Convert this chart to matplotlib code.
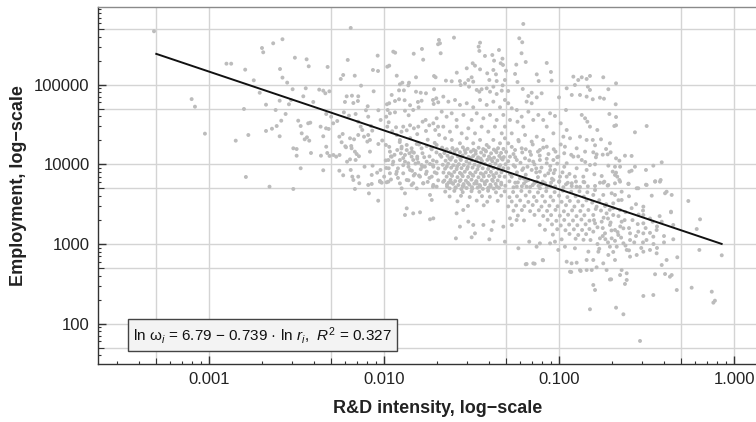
import numpy as np
import matplotlib
matplotlib.use("Agg")
import matplotlib.pyplot as plt
from matplotlib.ticker import FixedLocator, FixedFormatter, NullFormatter

plt.rcParams['font.family'] = ['Liberation Sans', 'DejaVu Sans']
plt.rcParams['mathtext.fontset'] = 'custom'
plt.rcParams['mathtext.rm'] = 'Liberation Sans'
plt.rcParams['mathtext.it'] = 'Liberation Sans:italic'

# ---- data: (log10 R&D intensity, log10 employment) ----
sparse_left = [
    (-3.314,5.672),(-3.099,4.82),(-3.08,4.725),(-3.023,4.386),(-2.90,5.265),(-2.873,5.265),
    (-2.793,5.19),(-2.744,5.056),(-2.71,4.90),(-2.697,5.462),(-2.69,5.408),(-2.633,5.521),
    (-2.58,5.572),(-2.594,5.198),(-2.58,5.09),(-2.553,5.027),(-2.674,4.75),(-2.619,4.683),
    (-2.596,4.80),(-2.543,4.755),(-2.562,4.633),(-2.587,4.549),(-2.613,4.482),(-2.64,4.448),
    (-2.674,4.42),(-2.596,4.353),(-2.80,4.696),(-2.775,4.369),(-2.847,4.298),(-2.789,3.842),
    (-2.654,3.72),
]
upper_mid = [
    (-2.19,5.714),(-2.509,5.34),(-2.442,5.32),(-2.43,5.232),(-2.322,5.224),(-2.207,5.312),
    (-2.036,5.366),(-1.947,5.416),(-1.936,5.403),(-1.83,5.39),(-1.783,5.45),(-1.776,5.315),
    (-1.691,5.509),(-1.686,5.563),(-2.063,5.186),(-2.034,5.173),(-1.981,5.227),(-1.97,5.24),
    (-2.233,5.123),(-2.247,5.073),(-2.167,5.114),(-1.927,5.114),(-1.817,5.094),(-1.714,5.11),
    (-1.705,5.094),(-2.131,4.989),(-1.909,5.006),(-1.895,5.026),(-1.857,5.026),(-1.861,4.993),
    (-1.886,4.93),(-1.914,4.93),(-1.817,4.913),(-1.79,4.90),(-1.76,4.893),(-1.714,4.944),
    (-2.522,4.944),(-2.447,4.956),(-2.37,4.939),(-2.347,4.926),(-2.335,4.893),(-2.312,4.918),
    (-2.461,4.855),(-2.531,4.809),(-2.213,4.855),(-2.183,4.863),(-2.147,4.855),(-2.149,4.796),
    (-2.223,4.784),(-2.175,4.771),(-2.059,4.918),(-1.956,4.872),(-1.937,4.796),(-1.97,4.768),
    (-1.983,4.755),(-1.914,4.818),(-1.882,4.806),(-1.851,4.743),(-1.806,4.784),(-1.785,4.80),
    (-1.802,4.717),(-1.72,4.809),(-1.701,4.83),(-1.716,4.759),(-1.69,4.78),(-2.404,4.784),
    (-2.093,4.73),(-2.103,4.68),(-2.032,4.68),(-1.979,4.683),(-1.966,4.642),(-1.987,4.599),
    (-1.937,4.654),(-1.88,4.674),(-1.859,4.617),(-1.833,4.683),(-2.33,4.633),(-2.302,4.599),
    (-2.229,4.654),(-2.20,4.612),(-2.162,4.633),(-2.09,4.599),
]
mid_band = [
    (-2.49,4.549),(-2.476,4.482),(-2.433,4.516),(-2.421,4.524),(-2.362,4.474),(-2.331,4.453),
    (-2.316,4.445),(-2.29,4.516),(-2.267,4.545),(-2.147,4.536),(-2.133,4.474),(-2.124,4.432),
    (-2.074,4.482),(-2.067,4.424),(-2.019,4.558),(-1.973,4.529),(-1.981,4.474),(-1.953,4.416),
    (-1.931,4.466),(-1.89,4.474),(-1.87,4.428),(-1.851,4.491),(-1.829,4.453),(-1.804,4.474),
    (-1.779,4.536),(-1.762,4.558),(-1.741,4.491),(-1.718,4.516),(-1.699,4.579),(-1.707,4.432),
    (-1.691,4.474),(-2.47,4.39),(-2.453,4.315),(-2.44,4.34),(-2.427,4.298),(-2.347,4.353),
    (-2.255,4.348),(-2.236,4.382),(-2.242,4.278),(-2.221,4.227),(-2.194,4.328),(-2.171,4.315),
    (-2.187,4.231),(-2.147,4.369),(-2.114,4.348),(-2.09,4.369),(-2.095,4.286),(-2.08,4.307),
    (-2.032,4.256),(-1.989,4.244),(-2.518,4.202),(-2.499,4.193),(-2.499,4.109),(-2.417,4.143),
    (-2.36,4.109),(-2.33,4.222),(-2.324,4.143),(-2.311,4.106),(-2.289,4.118),(-2.273,4.097),
    (-2.254,4.118),(-2.217,4.215),(-2.185,4.202),(-2.166,4.16),(-2.156,4.13),(-2.143,4.102),
    (-2.162,4.055),(-2.194,4.063),(-2.211,4.034),(-2.08,4.16),(-2.476,3.951),(-2.347,3.926),
    (-2.255,3.921),(-2.233,3.863),(-2.19,3.93),(-2.181,3.846),(-2.147,3.846),(-2.141,3.763),
    (-2.111,3.971),(-2.065,3.984),(-2.07,3.867),(-2.039,3.896),(-2.023,3.791),(-2.013,3.77),
    (-1.987,3.955),(-1.973,3.951),(-1.966,3.888),(-1.999,3.846),(-1.985,3.775),
    (-1.927,4.369),(-1.909,4.307),
]
core_left = [
    (-1.924,4.181),(-1.903,4.139),(-1.88,4.118),(-1.855,4.139),(-1.842,4.097),(-1.829,4.147),
    (-1.81,4.097),(-1.966,4.16),(-1.956,4.097),(-1.975,4.055),(-1.947,4.034),(-1.909,4.055),
    (-1.88,4.034),(-1.861,4.014),(-1.833,4.055),(-1.804,4.022),(-1.785,3.992),(-1.756,4.034),
    (-1.737,4.005),(-1.766,3.971),(-1.718,3.971),(-1.699,4.034),(-1.927,3.909),(-1.89,3.888),
    (-1.851,3.93),(-1.823,3.88),(-1.794,3.846),(-1.756,3.909),(-1.727,3.846),(-1.699,3.888),
    (-1.87,3.804),(-1.833,3.763),(-1.776,3.763),(-1.718,3.742),(-1.899,4.222),(-1.87,4.244),
    (-1.842,4.202),(-1.813,4.256),(-1.785,4.202),(-1.756,4.231),(-1.727,4.189),(-1.699,4.244),
    (-1.95,4.0),(-1.92,3.95),(-1.89,4.08),(-1.86,3.97),(-1.84,3.92),(-1.81,4.07),(-1.79,3.94),
    (-1.76,3.88),(-1.74,4.1),(-1.71,3.9),(-1.69,3.8),(-1.92,3.83),(-1.86,3.8),(-1.8,3.86),
    (-1.75,3.78),(-1.72,3.72),(-1.96,4.1),(-1.9,4.2),(-1.84,4.16),(-1.78,4.14),(-1.73,4.2),
    (-1.7,4.15),
    (-1.99,4.05),(-1.97,4.22),(-1.94,4.12),(-1.93,3.88),(-1.91,4.28),(-1.89,3.99),(-1.87,4.18),
    (-1.85,4.33),(-1.83,3.86),(-1.82,4.01),(-1.8,4.25),(-1.78,3.97),(-1.77,4.09),(-1.75,4.31),
    (-1.74,3.83),(-1.72,4.05),(-1.71,4.27),(-1.69,3.95),(-1.68,4.12),(-1.685,4.37),(-2.02,3.93),
    (-2.01,4.3),(-1.96,3.81),(-1.9,4.41),(-1.81,4.38),(-1.76,4.42),(-1.72,3.99),
]
upper_right = [
    (-1.204,5.764),(-1.60,5.592),(-1.68,5.521),(-1.676,5.396),(-1.451,5.529),(-1.459,5.479),
    (-1.455,5.425),(-1.227,5.584),(-1.21,5.534),(-1.214,5.396),(-1.343,5.437),(-1.423,5.362),
    (-1.381,5.374),(-1.371,5.303),(-1.323,5.328),(-1.333,5.27),(-1.32,5.249),(-1.19,5.286),
    (-1.244,5.253),(-1.07,5.274),(-1.046,5.161),(-1.042,5.052),(-1.127,5.131),(-1.116,5.047),
    (-1.493,5.27),(-1.48,5.24),(-1.527,5.207),(-1.584,5.152),(-1.451,5.194),(-1.41,5.144),
    (-1.375,5.186),(-1.36,5.131),(-1.398,5.06),(-1.356,5.047),(-1.303,5.177),(-1.309,5.06),
    (-1.322,4.993),(-1.29,4.922),(-1.251,5.136),(-1.237,5.035),(-1.646,5.052),(-1.613,5.044),
    (-1.566,5.047),(-1.562,4.997),(-1.537,5.018),(-1.518,5.06),(-1.499,5.094),(-1.49,5.039),
    (-1.514,4.976),(-1.47,4.935),(-1.455,4.913),(-1.442,4.944),(-1.413,4.956),(-1.394,4.913),
    (-1.375,4.976),(-1.356,4.884),(-1.327,4.926),(-1.207,4.947),(-1.175,4.859),(-1.156,4.90),
    (-1.127,4.842),(-1.099,4.893),(-1.185,4.788),(-1.156,4.768),(-1.023,4.608),(-1.0,4.842),
    (-0.99,4.516),(-0.956,4.432),(-0.96,4.683),(-0.956,4.956),(-0.927,4.872),(-0.909,4.997),
    (-0.89,5.06),(-0.918,5.102),(-0.87,5.094),(-0.842,5.073),(-0.835,4.976),(-0.88,4.872),
    (-0.842,4.851),(-0.87,4.621),(-0.851,4.579),(-0.838,4.536),
]
mid_right = [
    (-0.975,4.348),(-0.937,4.328),(-0.88,4.348),(-0.842,4.307),(-0.966,4.222),(-0.899,4.202),
    (-0.851,4.16),(-0.918,4.097),(-0.87,4.055),(-0.956,4.014),(-0.899,3.951),(-0.842,3.93),
    (-0.861,3.846),(-0.909,3.846),(-0.956,3.846),(-0.927,3.763),
    (-1.29,4.768),(-1.27,4.705),(-1.241,4.683),(-1.213,4.599),(-1.175,4.662),(-1.147,4.558),
    (-1.118,4.621),(-1.09,4.558),(-1.07,4.474),(-1.051,4.642),(-1.032,4.39),(-1.204,4.474),
    (-1.237,4.536),(-1.28,4.558),(-1.27,4.39),(-1.232,4.307),(-1.194,4.369),(-1.156,4.286),
    (-1.127,4.348),(-1.09,4.307),(-1.07,4.222),(-1.109,4.181),(-1.166,4.16),(-1.213,4.202),
    (-1.251,4.181),(-1.29,4.265),(-1.28,4.097),(-1.241,4.055),(-1.194,4.076),(-1.147,4.034),
    (-1.109,4.055),(-1.07,4.014),(-1.032,4.055),(-1.004,4.097),(-1.023,3.93),(-1.061,3.888),
    (-1.109,3.909),(-1.156,3.93),(-1.204,3.951),(-1.251,3.971),(-1.29,3.951),(-1.27,3.846),
    (-1.223,3.825),(-1.175,3.804),(-1.127,3.783),(-1.08,3.763),(-1.032,3.804),(-0.994,3.846),
    (-1.241,3.72),(-1.185,3.72),(-1.109,3.70),
    (-1.26,3.99),(-1.22,4.02),(-1.18,3.97),(-1.14,4.0),(-1.1,3.96),(-1.05,3.98),(-1.01,4.01),
    (-0.97,3.97),(-1.24,3.9),(-1.19,3.87),(-1.13,3.9),(-1.08,3.86),(-1.03,3.89),(-0.98,3.9),
    (-0.94,3.88),(-1.25,3.77),(-1.2,3.76),(-1.15,3.74),(-1.1,3.75),(-1.05,3.73),(-1.0,3.78),
    (-0.96,3.75),(-0.9,3.72),(-0.86,3.78),(-1.26,4.13),(-1.21,4.15),(-1.16,4.12),(-1.12,4.16),
    (-1.06,4.13),(-1.02,4.16),(-0.97,4.14),(-0.93,4.12),(-0.89,4.1),(-0.85,4.03),
    (-1.29,4.04),(-1.27,4.22),(-1.25,4.09),(-1.23,4.29),(-1.21,3.93),(-1.19,4.19),(-1.17,4.05),
    (-1.15,4.25),(-1.13,3.95),(-1.11,4.11),(-1.09,4.21),(-1.07,4.07),(-1.05,3.93),(-1.03,4.19),
    (-1.01,4.09),(-0.99,4.25),(-1.28,3.88),(-1.2,3.82),(-1.12,3.84),(-1.04,3.82),
]
core_upper = [
    (-1.661,4.851),(-1.632,4.788),(-1.594,4.809),(-1.566,4.747),(-1.527,4.768),(-1.49,4.717),
    (-1.451,4.809),(-1.413,4.747),(-1.375,4.788),(-1.337,4.717),(-1.309,4.809),
    (-1.67,4.662),(-1.642,4.599),(-1.613,4.642),(-1.585,4.558),(-1.546,4.621),(-1.499,4.558),
    (-1.47,4.642),(-1.432,4.579),(-1.394,4.621),(-1.356,4.558),(-1.318,4.621),
    (-1.661,4.474),(-1.623,4.411),(-1.584,4.474),(-1.556,4.39),(-1.518,4.453),(-1.48,4.39),
    (-1.442,4.474),(-1.404,4.411),(-1.366,4.474),(-1.327,4.39),(-1.309,4.474),(-1.651,4.328),
    (-1.613,4.307),(-1.566,4.265),(-1.527,4.328),(-1.49,4.265),(-1.451,4.307),(-1.413,4.244),
    (-1.375,4.307),(-1.337,4.265),(-1.309,4.328),
]
core_dense = [
    (-1.668,4.21),(-1.641,4.19),(-1.609,4.205),(-1.583,4.188),(-1.549,4.214),(-1.522,4.196),
    (-1.488,4.183),(-1.459,4.209),(-1.433,4.192),(-1.401,4.216),(-1.372,4.186),(-1.348,4.203),
    (-1.317,4.194),
    (-1.655,4.142),(-1.622,4.158),(-1.597,4.137),(-1.566,4.153),(-1.534,4.145),(-1.503,4.161),
    (-1.476,4.134),(-1.445,4.149),(-1.417,4.163),(-1.388,4.139),(-1.357,4.152),(-1.331,4.144),
    (-1.302,4.157),
    (-1.672,4.096),(-1.637,4.108),(-1.611,4.087),(-1.578,4.102),(-1.551,4.111),(-1.517,4.093),
    (-1.49,4.105),(-1.462,4.089),(-1.428,4.113),(-1.4,4.097),(-1.371,4.084),(-1.341,4.106),
    (-1.315,4.092),
    (-1.648,4.046),(-1.619,4.058),(-1.59,4.041),(-1.561,4.055),(-1.529,4.037),(-1.498,4.052),
    (-1.47,4.061),(-1.44,4.043),(-1.409,4.057),(-1.381,4.039),(-1.352,4.049),(-1.322,4.06),
    (-1.664,3.995),(-1.633,4.008),(-1.604,3.989),(-1.572,4.003),(-1.544,3.992),(-1.512,4.011),
    (-1.483,3.997),(-1.455,3.986),(-1.423,4.006),(-1.394,3.994),(-1.363,4.009),(-1.336,3.99),
    (-1.305,4.002),
    (-1.651,3.946),(-1.616,3.958),(-1.585,3.941),(-1.557,3.953),(-1.525,3.944),(-1.494,3.959),
    (-1.466,3.938),(-1.436,3.951),(-1.405,3.943),(-1.375,3.956),(-1.346,3.94),(-1.318,3.952),
    (-1.66,3.897),(-1.629,3.889),(-1.598,3.905),(-1.566,3.893),(-1.538,3.908),(-1.508,3.891),
    (-1.477,3.902),(-1.447,3.887),(-1.418,3.899),(-1.389,3.906),(-1.358,3.89),(-1.329,3.9),
    (-1.642,3.846),(-1.611,3.855),(-1.58,3.84),(-1.55,3.852),(-1.519,3.843),(-1.49,3.857),
    (-1.46,3.838),(-1.43,3.849),(-1.4,3.855),(-1.37,3.842),(-1.34,3.851),(-1.31,3.845),
    (-1.655,3.797),(-1.62,3.806),(-1.593,3.79),(-1.562,3.802),(-1.532,3.795),(-1.5,3.808),
    (-1.472,3.789),(-1.442,3.801),(-1.412,3.793),(-1.382,3.806),(-1.35,3.798),
    (-1.64,3.748),(-1.605,3.756),(-1.575,3.741),(-1.545,3.753),(-1.512,3.745),(-1.484,3.758),
    (-1.453,3.74),(-1.423,3.751),(-1.392,3.744),(-1.362,3.755),(-1.33,3.746),
    (-1.625,3.699),(-1.59,3.706),(-1.558,3.69),(-1.528,3.703),(-1.496,3.694),(-1.465,3.707),
    (-1.435,3.692),(-1.405,3.7),(-1.373,3.696),(-1.343,3.705),
    (-1.653,4.175),(-1.597,4.171),(-1.538,4.178),(-1.476,4.168),(-1.42,4.176),(-1.361,4.17),
    (-1.626,4.075),(-1.563,4.07),(-1.505,4.078),(-1.447,4.072),(-1.389,4.068),(-1.33,4.077),
    (-1.641,3.972),(-1.582,3.975),(-1.521,3.968),(-1.461,3.979),(-1.4,3.971),(-1.342,3.974),
    (-1.615,3.872),(-1.556,3.877),(-1.495,3.869),(-1.434,3.874),(-1.376,3.866),(-1.63,3.772),
    (-1.55,3.727),(-1.47,3.76),(-1.39,3.725),
]
core_lower = [
    (-1.662,3.781),(-1.615,3.772),(-1.567,3.79),(-1.52,3.768),(-1.473,3.785),(-1.425,3.776),
    (-1.378,3.792),(-1.33,3.77),(-1.283,3.787),(-1.235,3.774),(-1.188,3.789),(-1.14,3.766),
    (-1.093,3.783),(-1.045,3.771),(-0.998,3.788),(-0.95,3.769),(-0.903,3.784),(-0.855,3.775),
    (-1.64,3.723),(-1.592,3.711),(-1.545,3.729),(-1.497,3.714),(-1.45,3.726),(-1.402,3.708),
    (-1.355,3.721),(-1.307,3.731),(-1.26,3.712),(-1.212,3.725),(-1.165,3.716),(-1.117,3.73),
    (-1.07,3.709),(-1.022,3.722),(-0.975,3.713),(-0.927,3.728),(-0.88,3.717),(-0.835,3.724),
    (-1.65,3.658),(-1.598,3.667),(-1.55,3.651),(-1.5,3.663),(-1.455,3.655),(-1.405,3.668),
    (-1.36,3.649),(-1.31,3.661),(-1.262,3.653),(-1.215,3.666),(-1.168,3.657),(-1.12,3.648),
    (-1.073,3.664),(-1.025,3.652),(-0.978,3.669),(-0.93,3.656),(-0.883,3.662),(-0.838,3.65),
    (-1.625,3.597),(-1.56,3.605),(-1.51,3.59),(-1.44,3.601),(-1.395,3.593),(-1.33,3.606),
    (-1.283,3.588),(-1.24,3.599),(-1.19,3.609),(-1.143,3.592),(-1.095,3.603),(-1.048,3.594),
    (-1.0,3.607),(-0.952,3.589),(-0.905,3.6),(-0.858,3.595),
    (-1.58,3.536),(-1.47,3.545),(-1.41,3.531),(-1.35,3.542),(-1.27,3.534),(-1.222,3.547),
    (-1.175,3.529),(-1.128,3.54),(-1.08,3.533),(-1.033,3.546),(-0.985,3.53),(-0.938,3.541),
    (-0.89,3.535),(-0.843,3.548),
    (-1.52,3.478),(-1.43,3.486),(-1.29,3.472),(-1.245,3.483),(-1.198,3.476),(-1.15,3.489),
    (-1.1,3.47),(-1.055,3.481),(-1.008,3.474),(-0.96,3.487),(-0.912,3.471),(-0.865,3.482),
    (-1.26,3.418),(-1.212,3.426),(-1.165,3.413),(-1.115,3.424),(-1.068,3.416),(-1.02,3.428),
    (-0.972,3.411),(-0.925,3.422),(-0.878,3.415),(-0.832,3.427),
    (-1.235,3.357),(-1.14,3.365),(-1.09,3.352),(-1.045,3.363),(-0.995,3.355),(-0.948,3.367),
    (-0.9,3.35),(-0.855,3.361),
    (-1.2,3.296),(-1.065,3.304),(-1.015,3.291),(-0.97,3.302),(-0.92,3.295),(-0.872,3.307),
    (-0.826,3.293),
    (-1.11,3.238),(-1.04,3.246),(-0.99,3.233),(-0.942,3.244),(-0.895,3.236),(-0.848,3.247),
    (-1.08,3.178),(-1.01,3.186),(-0.963,3.173),(-0.915,3.184),(-0.868,3.176),(-0.826,3.188),
    (-1.035,3.118),(-0.94,3.126),(-0.89,3.113),(-0.845,3.124),
    (-0.985,3.058),(-0.905,3.066),(-0.86,3.053),
]
lower_scatter = [
    (-2.518,3.691),(-2.166,3.691),(-2.086,3.636),(-2.07,3.754),(-2.033,3.544),(-2.023,3.783),
    (-1.975,3.783),(-1.909,3.762),(-1.899,3.699),(-1.88,3.636),(-1.87,3.448),(-1.88,3.364),
    (-1.833,3.385),(-1.794,3.398),(-1.842,3.741),(-1.813,3.699),(-1.775,3.762),(-1.737,3.616),
    (-1.727,3.553),(-1.699,3.72),(-1.737,3.31),(-1.718,3.322),(-2.175,3.804),(-2.09,3.741),
    (-1.589,3.071),(-1.499,3.084),(-1.398,3.059),(-1.309,3.029),
    (-1.585,3.385),(-1.547,3.427),(-1.566,3.218),(-1.518,3.281),(-1.48,3.134),(-1.49,3.239),
    (-1.432,3.239),(-1.375,3.281),(-1.385,3.176),(-1.318,3.218),(-1.27,3.239),(-1.242,3.301),
    (-1.28,3.322),
    (-1.232,2.946),(-1.185,2.749),(-1.147,2.757),(-1.093,2.799),(-1.17,3.029),(-1.128,2.966),
    (-1.109,3.008),(-1.051,3.008),(-1.023,3.029),(-1.004,2.925),(-0.966,2.966),(-0.956,2.778),
    (-0.928,2.757),(-0.899,2.765),(-0.88,2.673),(-0.937,2.652),(-0.842,2.673),(-0.842,2.799),
    (-0.832,2.904),(-0.909,2.946),(-0.93,2.648),(-0.876,2.661),
]
right_cluster = [
    (-0.823,5.111),(-0.747,5.094),(-0.674,5.018),(-0.823,4.935),(-0.718,4.944),(-0.807,4.818),
    (-0.766,4.838),(-0.743,4.825),(-0.676,4.755),(-0.712,4.633),(-0.674,4.595),(-0.823,4.474),
    (-0.781,4.432),(-0.684,4.482),(-0.674,4.491),(-0.566,4.403),(-0.499,4.482),(-0.807,4.307),
    (-0.76,4.315),(-0.794,4.24),(-0.709,4.265),(-0.731,4.193),(-0.804,4.152),(-0.785,4.126),
    (-0.789,4.089),(-0.75,4.122),(-0.722,4.126),(-0.705,4.152),(-0.674,4.076),(-0.655,4.047),
    (-0.623,4.109),(-0.585,4.106),(-0.823,3.992),(-0.794,4.001),(-0.718,3.984),(-0.68,3.971),
    (-0.651,3.971),(-0.566,3.971),(-0.461,3.984),(-0.413,4.026),(-0.693,3.909),(-0.674,3.896),
    (-0.667,3.846),(-0.68,3.867),(-0.598,3.909),(-0.585,3.921),(-0.503,3.93),(-0.798,3.876),
    (-0.756,3.854),(-0.741,3.783),(-0.766,3.77),(-0.794,3.729),(-0.722,3.733),(-0.655,3.804),
    (-0.603,3.758),(-0.556,3.70),(-0.503,3.745),(-0.45,3.788),(-0.419,3.804),
    (-0.747,3.77),(-0.718,3.741),(-0.68,3.762),(-0.651,3.783),(-0.603,3.753),(-0.547,3.70),
    (-0.499,3.741),(-0.451,3.783),(-0.423,3.783),(-0.794,3.678),(-0.804,3.616),(-0.747,3.616),
    (-0.699,3.637),(-0.68,3.616),(-0.642,3.657),(-0.642,3.553),(-0.47,3.607),(-0.394,3.637),
    (-0.356,3.616),(-0.385,3.657),(-0.261,3.54),
]
lower_right = [
    (-0.785,3.469),(-0.737,3.477),(-0.69,3.511),(-0.651,3.427),(-0.804,3.364),(-0.728,3.385),
    (-0.69,3.364),(-0.756,3.28),(-0.794,3.26),(-0.709,3.239),(-0.642,3.28),(-0.68,3.176),
    (-0.632,3.197),(-0.737,3.134),(-0.804,3.155),(-0.766,3.071),(-0.699,3.071),(-0.661,3.113),
    (-0.594,3.134),(-0.547,3.155),(-0.518,3.134),(-0.518,3.469),(-0.518,3.364),(-0.518,3.26),
    (-0.442,3.176),(-0.413,3.28),(-0.36,3.406),(-0.347,3.239),(-0.461,3.092),(-0.594,3.05),
    (-0.632,3.009),(-0.67,2.966),(-0.709,2.966),(-0.718,2.862),(-0.775,2.903),(-0.804,2.799),
    (-0.747,2.757),(-0.68,2.799),(-0.613,2.925),(-0.594,2.841),(-0.556,2.862),(-0.518,2.903),
    (-0.48,2.925),(-0.442,2.883),(-0.385,2.799),(-0.413,2.736),(-0.813,2.673),(-0.785,2.707),
    (-0.728,2.673),(-0.642,2.673),(-0.613,2.632),(-0.651,2.61),(-0.451,2.62),(-0.394,2.623),
    (-0.356,2.61),(-0.366,2.589),(-0.324,2.833),(-0.709,2.554),(-0.613,2.548),(-0.623,2.498),
    (-0.794,2.422),(-0.804,2.485),(-0.518,2.347),(-0.461,2.359),(-0.327,2.422),(-0.242,2.451),
    (-0.127,2.401),(-0.118,2.263),(-0.109,2.288),(-0.07,2.858),(-0.198,2.925),(-0.213,3.188),
    (-0.194,3.31),(-0.36,3.398),(-0.347,3.059),(-0.823,2.18),(-0.674,2.2),(-0.632,2.117),
    (-0.537,1.782),(-1.19,2.745),(-1.139,2.752),(-1.091,2.795),(-0.702,2.556),
    (-0.81,3.52),(-0.77,3.55),(-0.73,3.5),(-0.69,3.45),(-0.76,3.42),(-0.8,3.3),(-0.72,3.32),
    (-0.66,3.35),(-0.62,3.4),(-0.58,3.3),(-0.75,3.2),(-0.7,3.17),(-0.65,3.22),(-0.6,3.2),
    (-0.55,3.25),(-0.78,3.0),(-0.72,3.02),(-0.68,3.04),(-0.62,2.98),(-0.57,3.02),(-0.5,3.05),
    (-0.46,3.0),(-0.53,2.95),(-0.75,3.1),(-0.6,3.6),(-0.56,3.5),(-0.52,3.42),(-0.48,3.32),
    (-0.44,3.22),(-0.4,3.1),
    (-0.79,3.44),(-0.745,3.33),(-0.705,3.27),(-0.665,3.15),(-0.625,3.3),(-0.585,3.45),
    (-0.545,3.37),(-0.505,3.2),(-0.465,3.28),(-0.425,3.35),(-0.78,3.21),(-0.735,3.06),
    (-0.69,2.9),(-0.645,3.08),(-0.6,2.92),(-0.56,3.1),(-0.52,3.02),(-0.48,3.14),(-0.44,2.95),
    (-0.4,3.02),(-0.82,3.05),(-0.77,2.94),(-0.71,3.43),(-0.66,3.55),
]

groups = [sparse_left, upper_mid, mid_band, core_left, upper_right, mid_right,
          core_upper, core_dense, core_lower, lower_scatter, right_cluster, lower_right]
pts = np.array([p for g in groups for p in g])
rd_intensity = 10 ** pts[:, 0]
employment = 10 ** pts[:, 1]

# regression: ln w = 6.79 - 0.739 ln r
fit_intercept = 6.79
fit_slope = -0.739
fit_r_range = [0.0005, 0.85]
fit_label = r"ln $\mathrm{\omega}_i$ = 6.79 − 0.739 · ln $r_i$,  $R^2$ = 0.327"

x_major = [0.001, 0.01, 0.1, 1.0]
x_labels = ["0.001", "0.010", "0.100", "1.000"]
y_major = [100, 1000, 10000, 100000]
y_labels = ["100", "1000", "10000", "100000"]
x_grid = [0.0005, 0.001, 0.005, 0.01, 0.05, 0.1, 0.5, 1.0]
y_grid = [50, 100, 500, 1000, 5000, 10000, 50000, 100000, 500000]

# ---- figure ----
fig = plt.figure(figsize=(7.56, 4.22), dpi=100)
ax = fig.add_axes([98/756, 58/422, 658/756, 357/422])
ax.set_xscale('log')
ax.set_yscale('log')
ax.set_xlim(10**-3.634, 10**0.1257)
ax.set_ylim(10**1.4925, 10**5.977)

for g in x_grid:
    ax.axvline(g, color='#d4d4d4', lw=1.0, zorder=0)
for g in y_grid:
    ax.axhline(g, color='#d4d4d4', lw=1.0, zorder=0)

ax.scatter(rd_intensity, employment, s=8, color='#bcbcbc', edgecolors='none', zorder=2)

fx = np.array(fit_r_range)
fy = np.exp(fit_intercept + fit_slope * np.log(fx))
ax.plot(fx, fy, color='#111111', lw=1.4, zorder=3)

ax.text((133-98)/658, (364-335)/357, fit_label, transform=ax.transAxes,
        ha='left', va='center', fontsize=11, color='#111111', zorder=5,
        bbox=dict(boxstyle='square,pad=0.35', fc='#f3f3f3', ec='#444444', lw=1.0))

ax.xaxis.set_major_locator(FixedLocator(x_major))
ax.xaxis.set_major_formatter(FixedFormatter(x_labels))
ax.yaxis.set_major_locator(FixedLocator(y_major))
ax.yaxis.set_major_formatter(FixedFormatter(y_labels))
xminor = [m * 10.0**e for e in range(-4, 1) for m in range(2, 10)]
yminor = [m * 10.0**e for e in range(1, 6) for m in range(2, 10)]
ax.xaxis.set_minor_locator(FixedLocator(xminor))
ax.yaxis.set_minor_locator(FixedLocator(yminor))
ax.xaxis.set_minor_formatter(NullFormatter())
ax.yaxis.set_minor_formatter(NullFormatter())

ax.tick_params(which='major', direction='in', length=6, width=1.0, color='#333333',
               labelsize=12, pad=6, labelcolor='#222222')
ax.tick_params(which='minor', direction='in', length=2.5, width=0.8, color='#333333')
ax.tick_params(top=False, right=False, which='both')

for axis, locs in ((ax.xaxis, xminor), (ax.yaxis, yminor)):
    ticks = axis.get_minor_ticks(len(locs))
    for loc, t in zip(locs, ticks):
        if abs(loc / 10 ** np.floor(np.log10(loc) + 1e-9) - 5) < 1e-6:
            t.tick1line.set_markersize(4.5)

for side in ('left', 'bottom'):
    ax.spines[side].set_color('#333333')
    ax.spines[side].set_linewidth(1.0)
ax.spines['top'].set_color('#8a8a8a')
ax.spines['top'].set_linewidth(1.0)
ax.spines['right'].set_visible(False)

ax.set_xlabel("R&D intensity, log−scale", fontsize=13, fontweight='bold', color='#222222')
ax.set_ylabel("Employment, log−scale", fontsize=13, fontweight='bold', color='#222222')
ax.xaxis.set_label_coords((438-98)/658, (364-400)/357)
ax.yaxis.set_label_coords((27-98)/658, 0.5)

fig.savefig("out.png", dpi=100)
